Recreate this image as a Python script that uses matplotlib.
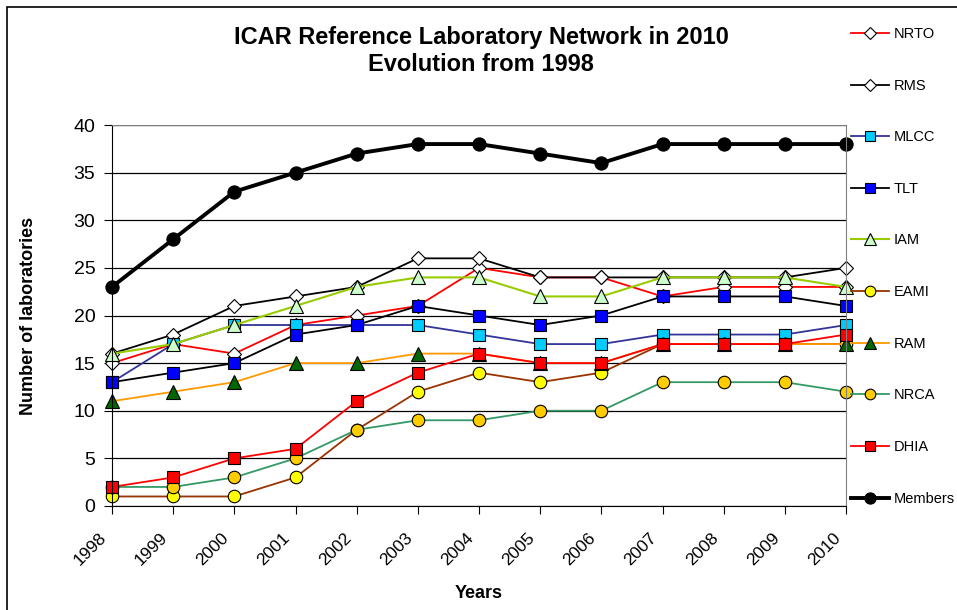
# encoding utf-8
import matplotlib
matplotlib.use("Agg")
import matplotlib.pyplot as plt
import matplotlib.transforms as mtransforms
from matplotlib.patches import Rectangle

plt.rcParams['font.family'] = ['Liberation Sans', 'DejaVu Sans']

# data
years = [1998, 1999, 2000, 2001, 2002, 2003, 2004, 2005, 2006, 2007, 2008, 2009, 2010]
nrto = [15, 17, 16, 19, 20, 21, 25, 24, 24, 22, 23, 23, 23]
rms = [16, 18, 21, 22, 23, 26, 26, 24, 24, 24, 24, 24, 25]
mlcc = [13, 17, 19, 19, 19, 19, 18, 17, 17, 18, 18, 18, 19]
tlt = [13, 14, 15, 18, 19, 21, 20, 19, 20, 22, 22, 22, 21]
iam = [16, 17, 19, 21, 23, 24, 24, 22, 22, 24, 24, 24, 23]
eami = [1, 1, 1, 3, 8, 12, 14, 13, 14, 17, 17, 17, 17]
ram = [11, 12, 13, 15, 15, 16, 16, 15, 15, 17, 17, 17, 17]
nrca = [2, 2, 3, 5, 8, 9, 9, 10, 10, 13, 13, 13, 12]
dhia = [2, 3, 5, 6, 11, 14, 16, 15, 15, 17, 17, 17, 18]
members = [23, 28, 33, 35, 37, 38, 38, 37, 36, 38, 38, 38, 38]

# (label, values, line colour, marker, marker face, line width, marker size)
series = [
    ('NRTO', nrto, '#FF0000', 'D', 'white', 1.3, 7.5),
    ('RMS', rms, '#000000', 'D', 'white', 1.3, 7.5),
    ('MLCC', mlcc, '#333399', 's', '#00CCFF', 1.3, 8.5),
    ('TLT', tlt, '#000000', 's', '#0000FF', 1.3, 8.5),
    ('IAM', iam, '#99CC00', '^', '#CCFFCC', 1.5, 9.5),
    ('EAMI', eami, '#993300', 'o', '#FFFF00', 1.3, 9),
    ('RAM', ram, '#FF9900', '^', '#006600', 1.3, 9.5),
    ('NRCA', nrca, '#339966', 'o', '#FFCC00', 1.3, 9),
    ('DHIA', dhia, '#FF0000', 's', '#FF0000', 1.3, 8.5),
    ('Members', members, '#000000', 'o', '#000000', 2.8, 9.5),
]

fig = plt.figure(figsize=(9.57, 6.1), dpi=100)
fig.patches.append(Rectangle((7 / 957, -0.1), 1.2, 1 - 7 / 610 + 0.1,
                             transform=fig.transFigure, fill=False,
                             edgecolor='black', linewidth=1.2))

ax = fig.add_axes([112 / 957, 1 - 506 / 610, (846 - 112) / 957, (506 - 125) / 610])

handles = []
for label, vals, col, mk, face, lw, ms in series:
    h, = ax.plot(years, vals, color=col, lw=lw, marker=mk, ms=ms,
                 markerfacecolor=face, markeredgecolor='black',
                 markeredgewidth=0.8, label=label, clip_on=False)
    handles.append(h)

ax.set_xlim(1998, 2010)
ax.set_ylim(0, 40)
ax.set_yticks(range(0, 41, 5))
ax.set_xticks(years)
ax.set_xticklabels([str(y) for y in years], rotation=45, ha='right', va='center',
                   rotation_mode='anchor', fontsize=12.5)
ax.tick_params(axis='y', labelsize=14, direction='out', length=6, pad=6)
ax.tick_params(axis='x', direction='out', length=6, pad=15)
# nudge the rotated year labels a little to the left, as in the original
shift = mtransforms.ScaledTranslation(-8 / 100, 0, fig.dpi_scale_trans)
for lab in ax.get_xticklabels():
    lab.set_transform(lab.get_transform() + shift)
ax.grid(axis='y', color='black', lw=0.9)
ax.set_axisbelow(True)
for s in ['top', 'right']:
    ax.spines[s].set_color('#808080')
ax.spines['left'].set_color('black')
ax.spines['bottom'].set_color('black')

ax.set_ylabel('Number of laboratories', fontsize=13, fontweight='bold', labelpad=26)
ax.set_xlabel('Years', fontsize=13, fontweight='bold', labelpad=12)

fig.text(481 / 957, 1 - 51 / 610, 'ICAR Reference Laboratory Network in 2010\nEvolution from 1998',
         ha='center', va='center', fontsize=17, fontweight='bold', linespacing=1.25)

fig.legend(handles=handles, loc='upper left', bbox_to_anchor=(851 / 957, 1 - 27 / 610),
           frameon=False, fontsize=10.5, labelspacing=2.58, handlelength=2.6,
           handletextpad=0.35, borderpad=0, borderaxespad=0, markerscale=0.85)

fig.savefig('out.png', dpi=100)
